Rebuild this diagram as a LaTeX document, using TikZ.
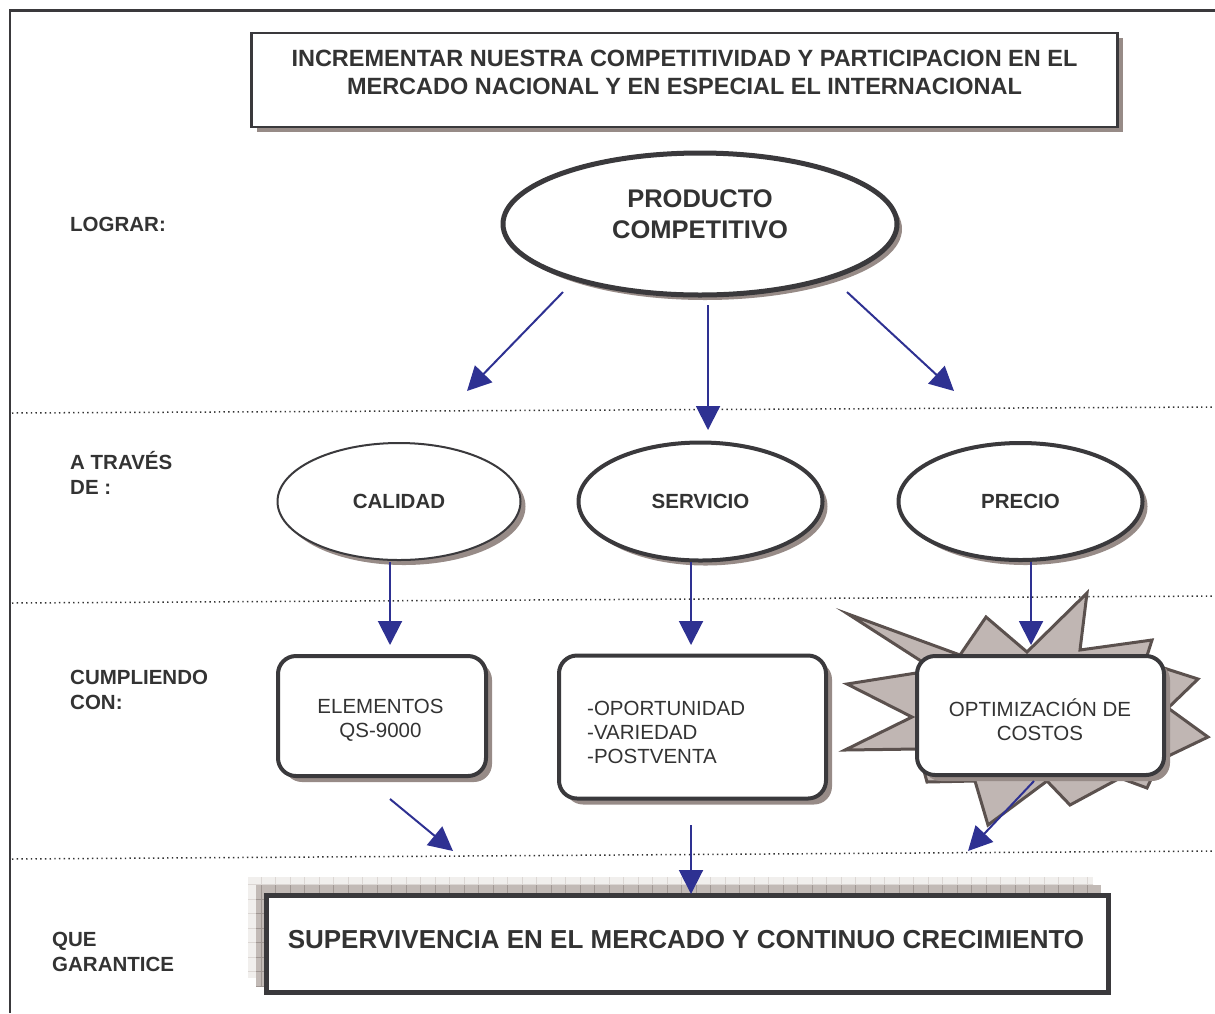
\documentclass[tikz,border=0pt]{standalone}
\usepackage{fontspec}
\setmainfont{Liberation Sans}
\usetikzlibrary{arrows.meta,shapes.geometric,shadows}
\definecolor{ink}{HTML}{333333}
\definecolor{frame}{HTML}{3A393C}
\definecolor{shade}{HTML}{978B87}
\definecolor{arrowblue}{HTML}{2E3192}
\definecolor{burstfill}{HTML}{C0B6B3}
\definecolor{burstline}{HTML}{5B514E}
\definecolor{gridlight}{HTML}{F1EFED}
\definecolor{gridlightline}{HTML}{DCD7D4}
\definecolor{gridmid}{HTML}{C2BAB6}
\definecolor{gridmidline}{HTML}{A09793}

\begin{document}
\begin{tikzpicture}[x=1pt,y=-1pt,
  shadowed/.style={drop shadow={shadow xshift=5pt,shadow yshift=-5pt,fill=shade,opacity=1}},
  boxbase/.style={draw=frame,fill=white,inner sep=0pt},
  oval/.style={boxbase,ellipse,shadowed},
  roundbox/.style={boxbase,rectangle,rounded corners=18pt,line width=4pt,
    drop shadow={shadow xshift=6pt,shadow yshift=-6pt,fill=shade,opacity=1}},
  boldtext/.style={text=ink,font=\bfseries\fontsize{20.5}{25}\selectfont},
  plaintext/.style={text=ink,font=\fontsize{20.5}{24}\selectfont},
  sidelabel/.style={boldtext,align=left,anchor=west,inner sep=0pt},
  flow/.style={draw=arrowblue,line width=2pt,-{Triangle[length=24pt,width=24pt]}},
  dotline/.style={draw=ink,line width=1.5pt,dash pattern=on 1.4pt off 3.3pt}
]
\useasboundingbox (0,0) rectangle (1215,1013);

% outer frame (top and left edges)
\draw[frame,line width=2.5pt] (10,1013) -- (10,10.5) -- (1215,10.5);

% row separators
\draw[dotline] (12,413) -- (1215,407);
\draw[dotline] (12,603) -- (1215,596);
\draw[dotline] (12,859) -- (1215,851);

% row titles
\node[sidelabel] (lLograr) at (70,224) {LOGRAR:};
\node[sidelabel] (lTraves) at (70,473) {A TRAVÉS\\DE :};
\node[sidelabel] (lCumple) at (70,690) {CUMPLIENDO\\CON:};
\node[sidelabel] (lGarant) at (52,952) {QUE\\GARANTICE};

% goal box
\node[boxbase,rectangle,line width=2.5pt,shadowed,minimum width=866,minimum height=94] (goal) at (684.5,80) {};
\node[text=ink,font=\bfseries\fontsize{23.5}{28}\selectfont,align=center] (goalText) at (684.5,72)
  {INCREMENTAR NUESTRA COMPETITIVIDAD Y PARTICIPACION EN EL\\MERCADO NACIONAL Y EN ESPECIAL EL INTERNACIONAL};

% main objective
\node[oval,line width=5pt,minimum width=394,minimum height=142] (prod) at (700,224) {};
\node[text=ink,font=\bfseries\fontsize{25.5}{31}\selectfont,align=center] (prodText) at (700,214.5)
  {PRODUCTO\\COMPETITIVO};

% means
\node[oval,line width=2pt,minimum width=243,minimum height=117,boldtext] (cal) at (399,501.5) {CALIDAD};
\node[oval,line width=4pt,minimum width=244,minimum height=118,boldtext] (ser) at (700.5,501.5) {SERVICIO};
\node[oval,line width=4pt,minimum width=244,minimum height=117,boldtext] (pre) at (1020.5,501.5) {PRECIO};

% starburst behind the cost box
\draw[burstline,fill=burstfill,line width=3pt,line join=miter]
  (848,614) -- (960,655) -- (986,617) -- (1027,652) -- (1087,593) -- (1080,650)
  -- (1152,640) -- (1145,662) -- (1198,679) -- (1168,708) -- (1208,737) -- (1160,760)
  -- (1147,788) -- (1120,778) -- (1070,805) -- (1047,781) -- (988,825) -- (975,781)
  -- (927,782) -- (918,749) -- (845,750) -- (912,717) -- (847,684) -- (935,670) -- cycle;

% requirements
\node[roundbox,minimum width=208,minimum height=120] (elem) at (382,716) {};
\node[plaintext,align=center] (elemText) at (380.5,720) {ELEMENTOS\\QS-9000};
\node[roundbox,minimum width=267,minimum height=143] (serv) at (692.5,727) {};
\node[plaintext,align=left,anchor=west,inner sep=0pt] (servText) at (587,732) {-OPORTUNIDAD\\-VARIEDAD\\-POSTVENTA};
\node[roundbox,minimum width=247,minimum height=119] (opt) at (1040.5,715.5) {};
\node[plaintext,align=center] (optText) at (1040,720) {OPTIMIZACIÓN DE\\COSTOS};

% result: stacked gridded sheets behind the final box
\begin{scope}
  \fill[gridlight] (248,877) rectangle (1093,978);
  \clip (248,877) rectangle (1093,978);
  \draw[gridlightline,line width=0.6pt,step=14.5pt] (240,860) grid (1100,990);
\end{scope}
\begin{scope}
  \fill[gridmid] (256,885) rectangle (1101,986);
  \clip (256,885) rectangle (1101,986);
  \draw[gridmidline,line width=0.6pt,step=14.5pt] (240,860) grid (1110,990);
\end{scope}
\node[boxbase,rectangle,line width=4.5pt,minimum width=842,minimum height=97] (result) at (687.5,944) {};
\node[text=ink,font=\bfseries\fontsize{26}{30}\selectfont] (resultText) at (686,940)
  {SUPERVIVENCIA EN EL MERCADO Y CONTINUO CRECIMIENTO};

% connectors
\coordinate (pL) at (563,292); \coordinate (tL) at (467,391);
\coordinate (pM) at (708,305); \coordinate (tM) at (708,430);
\coordinate (pR) at (847,292); \coordinate (tR) at (954,391);
\draw[flow] (pL) -- (tL);
\draw[flow] (pM) -- (tM);
\draw[flow] (pR) -- (tR);

\coordinate (cA) at (390,562); \coordinate (cB) at (390,645);
\coordinate (sA) at (691,562); \coordinate (sB) at (691,645);
\coordinate (rA) at (1031,562); \coordinate (rB) at (1031,645);
\draw[flow] (cA) -- (cB);
\draw[flow] (sA) -- (sB);
\draw[flow] (rA) -- (rB);

\coordinate (eA) at (390,799); \coordinate (eB) at (453,851);
\coordinate (vA) at (691,825); \coordinate (vB) at (691,894);
\coordinate (oA) at (1034,781); \coordinate (oB) at (968,851);
\draw[flow] (eA) -- (eB);
\draw[flow] (vA) -- (vB);
\draw[flow] (oA) -- (oB);
\end{tikzpicture}
\end{document}
